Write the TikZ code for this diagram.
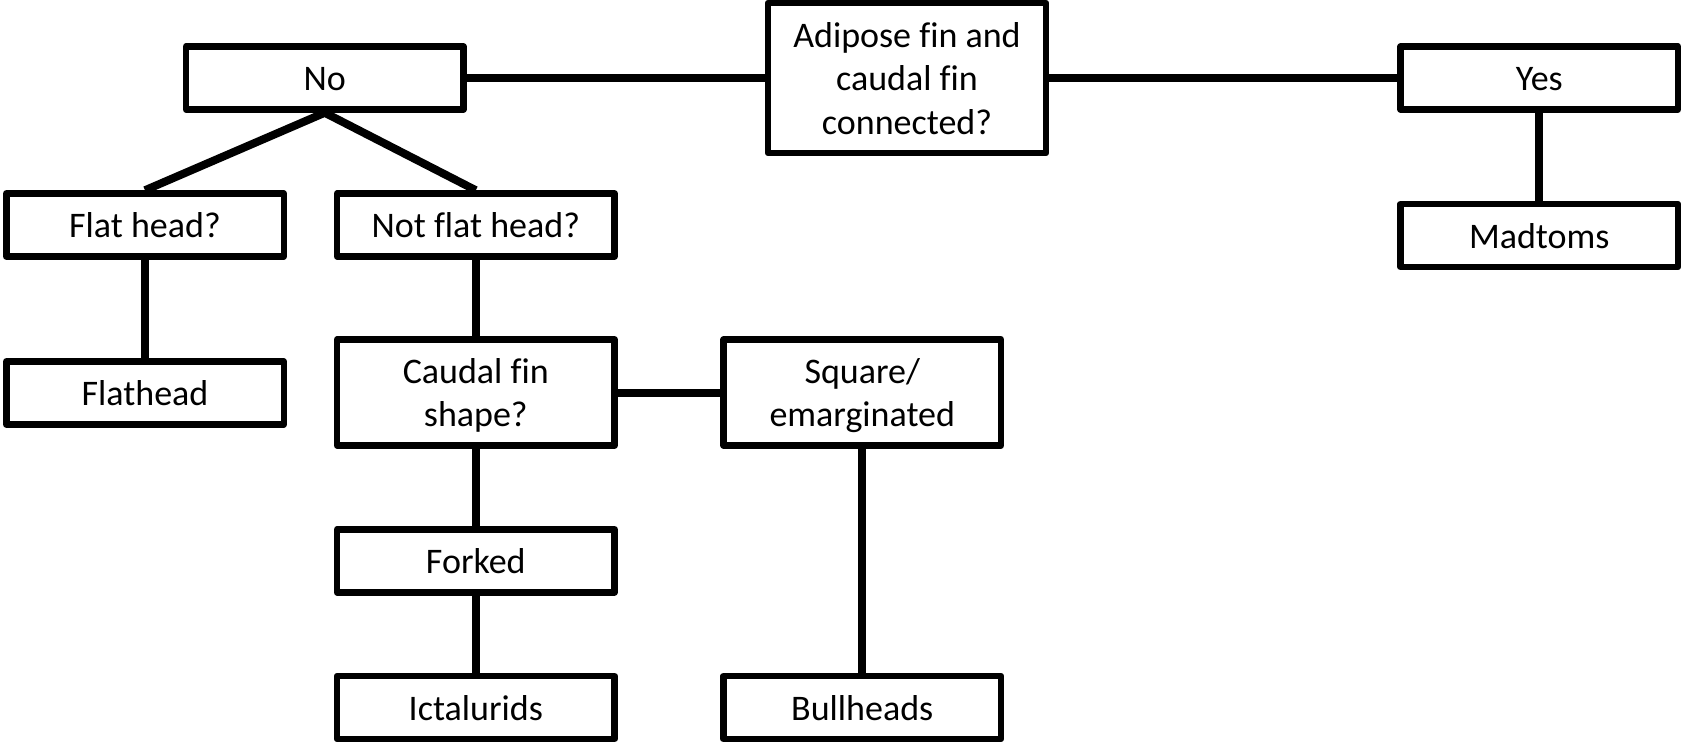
\documentclass[tikz,border=0pt]{standalone}
\usepackage{fontspec}
\setmainfont{Carlito}[Ligatures=NoCommon]
\begin{document}
\begin{tikzpicture}[x=1pt,y=-1pt,
  box/.style={draw=black, line width=6.5pt, line join=round, fill=white, inner sep=0pt,
    minimum width=277.5pt, minimum height=63pt, align=center,
    font=\fontsize{36}{44}\selectfont, text height=25.5pt, text depth=0pt},
  mbox/.style={draw=black, line width=6.5pt, line join=round, fill=white, inner sep=0pt,
    minimum width=277.5pt, align=center,
    font=\fontsize{36}{43.5}\selectfont, text depth=0pt},
  link/.style={draw=black, line width=8pt}]
\useasboundingbox (0,0) rectangle (1681,742);
% nodes
\node[mbox, minimum width=278pt, minimum height=150pt] (adipose) at (907,78) {Adipose fin and\\caudal fin\\connected?};
\node[box] (no) at (324.75,78) {No};
\node[box] (yes) at (1539.25,78) {Yes};
\node[box] (madtoms) at (1539.25,235.5) {Madtoms};
\node[box] (flathq) at (145,225) {Flat head?};
\node[box] (notflat) at (475.8,225) {Not flat head?};
\node[box] (flathead) at (145,393) {Flathead};
\node[mbox, minimum height=106pt] (caudal) at (475.8,392.5) {Caudal fin\\shape?};
\node[mbox, minimum height=106pt] (square) at (862.25,392.5) {Square/\\emarginated};
\node[box] (forked) at (475.8,560.75) {Forked};
\node[box] (ictal) at (475.8,707.5) {Ictalurids};
\node[box] (bull) at (862.25,707.5) {Bullheads};
% connectors
\draw[link] (no.east) -- (adipose.west);
\draw[link] (adipose.east) -- (yes.west);
\draw[link] (yes.south) -- (madtoms.north);
\draw[link] (no.south) -- (flathq.north);
\draw[link] (no.south) -- (notflat.north);
\draw[link] (flathq.south) -- (flathead.north);
\draw[link] (notflat.south) -- (caudal.north);
\draw[link] (caudal.east) -- (square.west);
\draw[link] (caudal.south) -- (forked.north);
\draw[link] (forked.south) -- (ictal.north);
\draw[link] (square.south) -- (bull.north);
\end{tikzpicture}
\end{document}
